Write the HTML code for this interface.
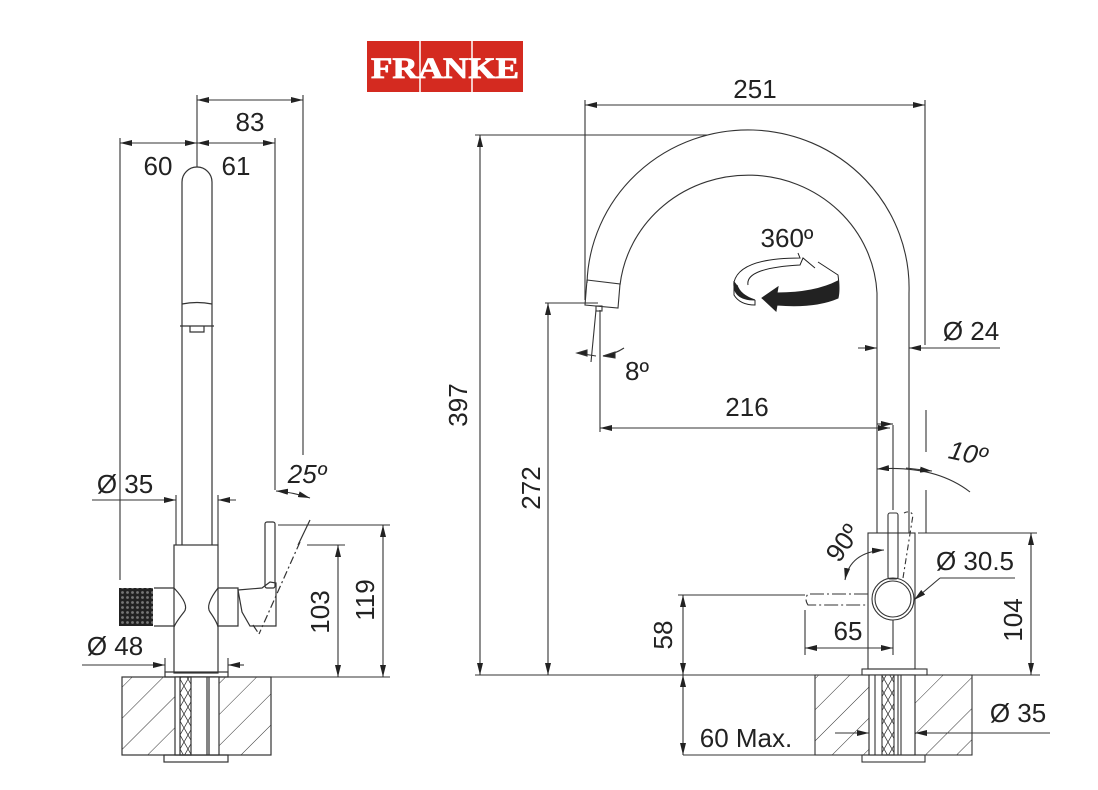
<!DOCTYPE html>
<html><head><meta charset="utf-8"><style>
html,body{margin:0;padding:0;background:#fff;}
svg{display:block;}
text{font-family:"Liberation Sans",sans-serif;font-size:26px;fill:#222;}
</style></head><body>
<svg width="1098" height="790" viewBox="0 0 1098 790" xmlns="http://www.w3.org/2000/svg">
<defs>
<marker id="a" viewBox="0 0 12 6" refX="12" refY="3" markerWidth="12" markerHeight="6" orient="auto-start-reverse" markerUnits="userSpaceOnUse"><path d="M0,0L12,3L0,6z" fill="#222"/></marker>
<pattern id="h" width="22" height="22" patternUnits="userSpaceOnUse" patternTransform="rotate(45)"><line x1="0" y1="0" x2="0" y2="22" stroke="#333" stroke-width="1"/></pattern>
<pattern id="k" width="5" height="5" patternUnits="userSpaceOnUse"><rect width="5" height="5" fill="#222"/><circle cx="2.5" cy="2.5" r="1.4" fill="#777"/></pattern>
<pattern id="x" width="8" height="14" patternUnits="userSpaceOnUse"><path d="M0,0L8,14M8,0L0,14" stroke="#333" stroke-width="0.8"/></pattern>
</defs>

<rect x="367" y="41" width="156" height="51" fill="#d42a20"/>
<line x1="420" y1="41" x2="420" y2="92" stroke="#fff" stroke-width="1.5"/>
<line x1="472" y1="41" x2="472" y2="92" stroke="#fff" stroke-width="1.5"/>
<text x="445" y="78" text-anchor="middle" style="font-family:'Liberation Serif',serif;font-weight:bold;font-size:30px;fill:#fff;stroke:#fff;stroke-width:0.8;" textLength="148" lengthAdjust="spacingAndGlyphs">FRANKE</text>

<g fill="none" stroke="#333" stroke-width="1.2">
<path d="M182,545 L182,182 A15,15 0 0 1 212,182 L212,545"/>
<path d="M182,304 Q197,301 212,304 M180,326 L214,326 M190,326 L190,332 L204,332 L204,326"/>
<rect x="174" y="545" width="44" height="128"/>
<path d="M174,588 Q190,605 184,612 Q176,622 174,627 M218,588 Q205,605 210,612 Q217,622 218,627"/>
<path d="M218,588 L238,588 L238,626 L218,626"/>
<path d="M238,590 L262,588 L270,582 L276,583 L276,626 L250,626 L242,612z"/>
<rect x="265" y="522" width="10" height="66" rx="2"/>
<path d="M154,588 L174,588 M154,626 L174,626"/>
<rect x="165" y="672" width="63" height="5"/>
<rect x="122" y="677" width="149" height="78" fill="url(#h)"/>
<rect x="175" y="677" width="44" height="78" fill="#fff"/>
<rect x="180" y="677" width="11" height="78" fill="url(#x)"/>
<line x1="207" y1="677" x2="207" y2="755"/><line x1="209" y1="677" x2="209" y2="755"/>
<rect x="164" y="755" width="64" height="7"/>
<path d="M300,542 L259,634 M253,625 L259,634" stroke-dasharray="8,3,2,3"/>
<path d="M310,520 L298,545"/>
</g>
<rect x="119" y="588" width="34" height="38" fill="url(#k)"/>

<g fill="none" stroke="#333" stroke-width="1.1">
<line x1="197" y1="95" x2="197" y2="167"/><line x1="303" y1="95" x2="303" y2="455"/>
<line x1="197" y1="100" x2="303" y2="100" marker-start="url(#a)" marker-end="url(#a)"/>
<line x1="120" y1="138" x2="120" y2="580"/><line x1="275" y1="138" x2="275" y2="490"/>
<line x1="120" y1="143" x2="197" y2="143" marker-start="url(#a)" marker-end="url(#a)"/>
<line x1="197" y1="143" x2="275" y2="143" marker-start="url(#a)" marker-end="url(#a)"/>
<line x1="176" y1="495" x2="176" y2="545"/><line x1="218" y1="495" x2="218" y2="545"/>
<line x1="92" y1="500" x2="176" y2="500" marker-end="url(#a)"/>
<line x1="236" y1="500" x2="218" y2="500" marker-end="url(#a)"/>
<line x1="165" y1="658" x2="165" y2="672"/><line x1="228" y1="658" x2="228" y2="672"/>
<line x1="82" y1="665" x2="165" y2="665" marker-end="url(#a)"/>
<line x1="244" y1="665" x2="228" y2="665" marker-end="url(#a)"/>
<line x1="278" y1="525" x2="390" y2="525"/><line x1="307" y1="545" x2="345" y2="545"/>
<line x1="228" y1="677" x2="390" y2="677"/>
<line x1="338" y1="545" x2="338" y2="677" marker-start="url(#a)" marker-end="url(#a)"/>
<line x1="383" y1="525" x2="383" y2="677" marker-start="url(#a)" marker-end="url(#a)"/>
<path d="M276,491 Q292,492 310,498" marker-start="url(#a)" marker-end="url(#a)"/>

<path d="M587,283 A161,158 0 0 1 909,293 L909,533"/>
<path d="M620,285 A129,124 0 0 1 877,293 L877,533"/>
<path d="M587,280 L620,284 L618,308 L585,305 Z"/>
<rect x="596" y="306" width="6" height="5"/>
<rect x="868" y="533" width="47" height="136"/>
<line x1="893" y1="425" x2="893" y2="510"/>
<line x1="926" y1="410" x2="926" y2="452"/><line x1="926" y1="490" x2="926" y2="533"/>
<circle cx="893" cy="599" r="21"/><circle cx="893" cy="599" r="18"/>
<rect x="888" y="513" width="10" height="66" rx="2"/>
<path d="M903,578 L913,515 Q910,510 904,513" stroke-dasharray="6,3,2,3"/>
<path d="M868,594 L808,594 Q804,599 808,605 L868,605" stroke-dasharray="14,3,2,3"/>
<rect x="862" y="669" width="65" height="6"/>
<rect x="815" y="675" width="157" height="80" fill="url(#h)"/>
<rect x="869" y="675" width="46" height="80" fill="#fff"/>
<line x1="869" y1="675" x2="869" y2="755"/><line x1="875" y1="675" x2="875" y2="755"/>
<rect x="882" y="675" width="12" height="80" fill="url(#x)"/>
<line x1="898" y1="675" x2="898" y2="755"/><line x1="901" y1="675" x2="901" y2="755"/><line x1="915" y1="675" x2="915" y2="755"/>
<rect x="862" y="755" width="63" height="7"/>

<line x1="585" y1="100" x2="585" y2="300"/><line x1="925" y1="100" x2="925" y2="345"/>
<line x1="585" y1="105" x2="925" y2="105" marker-start="url(#a)" marker-end="url(#a)"/>
<line x1="475" y1="135" x2="708" y2="135"/>
<line x1="480" y1="135" x2="480" y2="675" marker-start="url(#a)" marker-end="url(#a)"/>
<line x1="545" y1="303" x2="598" y2="303"/>
<line x1="548" y1="303" x2="548" y2="675" marker-start="url(#a)" marker-end="url(#a)"/>
<line x1="600" y1="310" x2="600" y2="432"/><line x1="596" y1="310" x2="591" y2="362"/>
<line x1="600" y1="428" x2="890" y2="428" marker-start="url(#a)" marker-end="url(#a)"/>
<line x1="475" y1="675" x2="815" y2="675"/><line x1="972" y1="675" x2="1040" y2="675"/>
<line x1="683" y1="755" x2="815" y2="755"/>
<line x1="678" y1="595" x2="805" y2="595"/>
<line x1="683" y1="595" x2="683" y2="675" marker-start="url(#a)" marker-end="url(#a)"/>
<line x1="683" y1="675" x2="683" y2="755" marker-start="url(#a)" marker-end="url(#a)"/>
<line x1="918" y1="533" x2="1037" y2="533"/>
<line x1="1031" y1="533" x2="1031" y2="675" marker-start="url(#a)" marker-end="url(#a)"/>
<line x1="805" y1="610" x2="805" y2="655"/><line x1="893" y1="620" x2="893" y2="655"/>
<line x1="805" y1="648" x2="893" y2="648" marker-start="url(#a)" marker-end="url(#a)"/>
<line x1="835" y1="733" x2="869" y2="733" marker-end="url(#a)"/>
<line x1="1050" y1="733" x2="915" y2="733" marker-end="url(#a)"/>
<line x1="858" y1="348" x2="877" y2="348" marker-end="url(#a)"/>
<line x1="1000" y1="348" x2="909" y2="348" marker-end="url(#a)"/>
<line x1="1015" y1="578" x2="940" y2="578"/>
<line x1="940" y1="578" x2="914" y2="600" marker-end="url(#a)"/>
<line x1="877" y1="424" x2="893" y2="424" marker-end="url(#a)"/>
<path d="M877,469 Q935,465 970,492" marker-start="url(#a)"/>
<path d="M906,468 L932,471" marker-end="url(#a)"/>
<path d="M845,580 Q850,552 884,550" marker-start="url(#a)" marker-end="url(#a)"/>
<path d="M577,353 L596,356 M603,356 Q615,354 624,348"/>
<path d="M577,353 l10,-3 v6z M603,356 l12,-4 v6z" fill="#222"/>
</g>

<g stroke="#222" stroke-width="1" fill="none">
<path d="M748,285 Q745,268 800,265 L803,258 L815,268"/>
<path d="M818,262 L838,275 Q840,290 838,298"/>
<path d="M734,281 Q732,300 755,300 Q740,295 737,285" fill="#222"/>
<path d="M734,281 L734,295 Q740,305 755,305 L755,300"/>
<path d="M762,298 L778,287 L777,293 Q815,293 838,281 L838,298 Q815,308 777,305 L776,311z" fill="#222"/>
<path d="M734,282 Q740,258 800,258 L798,253"/>
</g>

<text x="250" y="131" text-anchor="middle">83</text>
<text x="158" y="175" text-anchor="middle">60</text>
<text x="236" y="175" text-anchor="middle">61</text>
<text x="125" y="493" text-anchor="middle">Ø 35</text>
<text x="115" y="655" text-anchor="middle">Ø 48</text>
<text x="307" y="483" text-anchor="middle" font-style="italic">25º</text>
<text transform="translate(329,612) rotate(-90)" text-anchor="middle">103</text>
<text transform="translate(374,600) rotate(-90)" text-anchor="middle">119</text>
<text x="755" y="98" text-anchor="middle">251</text>
<text transform="translate(467,405) rotate(-90)" text-anchor="middle">397</text>
<text transform="translate(540,488) rotate(-90)" text-anchor="middle">272</text>
<text x="747" y="416" text-anchor="middle">216</text>
<text x="787" y="247" text-anchor="middle">360º</text>
<text x="971" y="340" text-anchor="middle">Ø 24</text>
<text x="637" y="380" text-anchor="middle">8º</text>
<text transform="translate(966,462) rotate(12)" text-anchor="middle" font-style="italic">10º</text>
<text transform="translate(850,548) rotate(-55)" text-anchor="middle">90º</text>
<text x="975" y="570" text-anchor="middle">Ø 30.5</text>
<text transform="translate(1022,620) rotate(-90)" text-anchor="middle">104</text>
<text transform="translate(672,635) rotate(-90)" text-anchor="middle">58</text>
<text x="848" y="640" text-anchor="middle">65</text>
<text x="746" y="747" text-anchor="middle">60 Max.</text>
<text x="1018" y="722" text-anchor="middle">Ø 35</text>
</svg>
</body></html>
